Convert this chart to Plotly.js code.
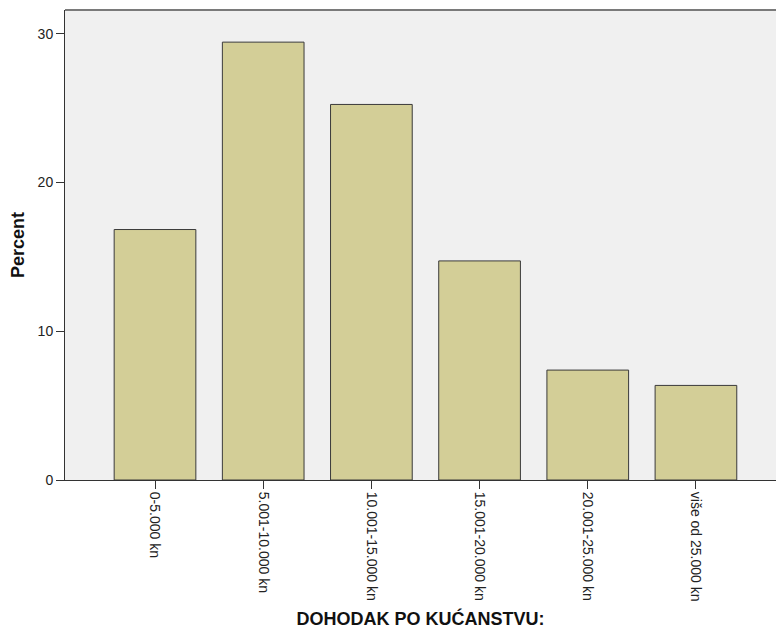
<!DOCTYPE html>
<html>
<head>
<meta charset="utf-8">
<script src="https://cdn.plot.ly/plotly-3.0.1.min.js"></script>
<style>html,body{margin:0;padding:0;background:#fff;overflow:hidden}#chart{width:776px;height:629px}</style>
</head>
<body>
<div id="chart"></div>
<script>
const categories = ["0-5.000 kn", "5.001-10.000 kn", "10.001-15.000 kn", "15.001-20.000 kn", "20.001-25.000 kn", "više od 25.000 kn"];
const percentValues = [16.84, 29.44, 25.25, 14.73, 7.39, 6.36];
const yTickValues = [0, 10, 20, 30];
const xTitle = "DOHODAK PO KUĆANSTVU:";
const yTitle = "Percent";

const trace = {
  type: "bar",
  x: categories,
  y: percentValues,
  marker: {color: "#d3ce97", line: {color: "#3a3a3a", width: 1}},
  hoverinfo: "x+y"
};

const layout = {
  width: 776,
  height: 629,
  margin: {l: 65, r: 0, t: 10, b: 149},
  paper_bgcolor: "#ffffff",
  plot_bgcolor: "#f0f0f0",
  bargap: 0.245,
  showlegend: false,
  font: {family: "Liberation Sans, Arial, sans-serif", color: "#222"},
  xaxis: {
    type: "category",
    range: [-0.832, 5.74],
    tickangle: 90,
    ticks: "outside",
    ticklen: 8,
    tickcolor: "#333",
    tickfont: {size: 14, color: "#222"},
    showline: true,
    linecolor: "#333",
    linewidth: 1,
    mirror: false,
    showgrid: false,
    zeroline: false,
    title: {text: xTitle, font: {size: 18, color: "#111", weight: "bold"}, standoff: 15}
  },
  yaxis: {
    range: [0, 31.6],
    tickvals: yTickValues,
    ticks: "outside",
    ticklen: 8,
    tickcolor: "#333",
    tickfont: {size: 14, color: "#222"},
    showline: true,
    linecolor: "#333",
    linewidth: 1,
    showgrid: false,
    zeroline: false,
    title: {text: yTitle, font: {size: 18, color: "#111", weight: "bold"}, standoff: 8}
  },
  shapes: [{
    type: "line", xref: "paper", yref: "paper", x0: 0, x1: 1, y0: 1, y1: 1,
    line: {color: "#7a7a7a", width: 2}
  }]
};

Plotly.newPlot("chart", [trace], layout, {displayModeBar: false, staticPlot: true});
</script>
</body>
</html>
